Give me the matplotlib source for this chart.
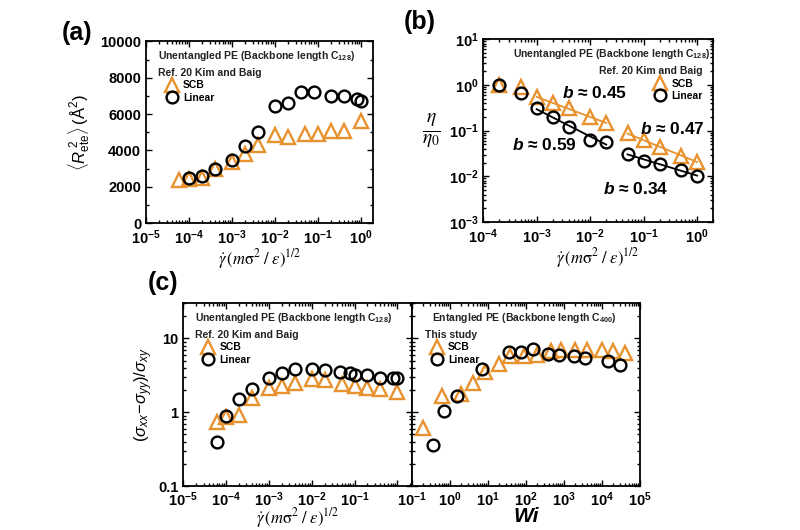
import matplotlib
matplotlib.use('Agg')
import matplotlib.pyplot as plt
import matplotlib.ticker as mticker
import numpy as np

plt.rcParams['font.family'] = ['Liberation Sans', 'DejaVu Sans']
plt.rcParams['mathtext.fontset'] = 'custom'
plt.rcParams['mathtext.rm'] = 'Liberation Sans'
plt.rcParams['mathtext.it'] = 'Liberation Sans:italic'
plt.rcParams['mathtext.bf'] = 'Liberation Sans:bold'
plt.rcParams['mathtext.bfit'] = 'Liberation Sans:italic:bold'

ORANGE = '#E8922F'

# (a) mean-square end-to-end distance
a_scb_x = [6e-5, 1e-4, 2e-4, 4e-4, 1e-3, 2e-3, 4e-3, 1e-2, 2e-2, 5e-2, 1e-1, 2e-1, 4e-1, 1.0]
a_scb_y = [2350, 2450, 2500, 3000, 3350, 3830, 4280, 4840, 4760, 4880, 4880, 5080, 5080, 5600]
a_lin_x = [1e-4, 2e-4, 4e-4, 1e-3, 2e-3, 4e-3, 1e-2, 2e-2, 4e-2, 8e-2, 2e-1, 4e-1, 8e-1, 1.0]
a_lin_y = [2500, 2600, 3000, 3500, 4220, 5000, 6420, 6600, 7220, 7220, 7000, 7000, 6820, 6720]

# (b) normalised viscosity
b_scb_x = [2e-4, 5e-4, 1e-3, 2e-3, 4e-3, 1e-2, 2e-2, 5e-2, 1e-1, 2e-1, 5e-1, 1.0]
b_scb_y = [1.0, 0.88, 0.54, 0.40, 0.31, 0.20, 0.145, 0.087, 0.062, 0.044, 0.028, 0.021]
b_lin_x = [2e-4, 5e-4, 1e-3, 2e-3, 4e-3, 1e-2, 2e-2, 5e-2, 1e-1, 2e-1, 5e-1, 1.0]
b_lin_y = [1.0, 0.66, 0.31, 0.20, 0.12, 0.064, 0.057, 0.031, 0.022, 0.019, 0.014, 0.010]
b_fit_ranges = [(1e-3, 2e-2), (5e-2, 1.0)]
b_slopes = ['0.45', '0.59', '0.47', '0.34']
b_slope_pos = [(1.2e-2, 0.66), (1.4e-3, 0.048), (0.34, 0.11), (0.07, 0.0054)]

# (c) left: unentangled, vs shear rate
c1_scb_x = [6e-5, 1e-4, 2e-4, 4e-4, 1e-3, 2e-3, 4e-3, 1e-2, 2e-2, 5e-2, 1e-1, 2e-1, 4e-1, 1.0]
c1_scb_y = [0.73, 0.86, 0.93, 1.58, 2.1, 2.27, 2.52, 2.8, 2.7, 2.4, 2.23, 2.15, 2.05, 1.9]
c1_lin_x = [6e-5, 1e-4, 2e-4, 4e-4, 1e-3, 2e-3, 4e-3, 1e-2, 2e-2, 4.5e-2, 8e-2, 1e-1, 2e-1, 4e-1, 8e-1, 1.0]
c1_lin_y = [0.40, 0.90, 1.5, 2.05, 2.94, 3.43, 3.8, 3.9, 3.69, 3.54, 3.36, 3.19, 3.16, 2.94, 2.88, 2.88]

# (c) right: entangled, vs Wi
c2_scb_x = [0.2, 0.6, 2.0, 4.0, 8.3, 20, 39, 87, 200, 450, 830, 2000, 4000, 1e4, 2e4, 4e4]
c2_scb_y = [0.61, 1.67, 1.76, 2.52, 3.54, 4.5, 5.7, 5.7, 6.0, 6.7, 7.0, 7.0, 7.0, 7.0, 6.8, 6.4]
c2_lin_x = [0.36, 0.7, 1.5, 7.0, 36, 76, 150, 370, 750, 1800, 3600, 14000, 30000]
c2_lin_y = [0.36, 1.05, 1.64, 3.9, 6.6, 6.6, 7.2, 6.2, 5.9, 5.75, 5.5, 5.0, 4.35]

GAMMA_LABEL = r'$\dot{\gamma}\,(m\mathrm{\sigma}^2\;/\;\varepsilon)^{1/2}$'


def scb(ax, x, y):
    ax.plot(x, y, ls='none', marker='^', ms=10.5, mfc='none', mec=ORANGE, mew=1.7,
            label='SCB', zorder=3)


def lin(ax, x, y):
    ax.plot(x, y, ls='none', marker='o', ms=8.5, mfc='none', mec='black', mew=1.7,
            label='Linear', zorder=4)


def log_fmt(hide_above=None):
    def f(v, _):
        if v <= 0 or (hide_above is not None and v > hide_above):
            return ''
        return r'$\mathbf{10^{%d}}$' % round(np.log10(v))
    return mticker.FuncFormatter(f)


def style(ax):
    ax.tick_params(which='both', direction='in', top=True, right=True,
                   labelsize=10.5, width=1.0)
    ax.tick_params(which='major', length=4.5)
    ax.tick_params(which='minor', length=2.5)
    for lbl in ax.get_xticklabels() + ax.get_yticklabels():
        lbl.set_fontweight('bold')
    for s in ax.spines.values():
        s.set_linewidth(1.3)


def log_x(ax, lo, hi, hide_above=None):
    ax.set_xscale('log')
    ax.set_xlim(lo, hi)
    ax.xaxis.set_major_locator(mticker.LogLocator(base=10, numticks=20))
    ax.xaxis.set_minor_locator(mticker.LogLocator(base=10, subs=np.arange(2, 10), numticks=20))
    ax.xaxis.set_major_formatter(log_fmt(hide_above))
    ax.xaxis.set_minor_formatter(mticker.NullFormatter())


def header(ax, title, ref, x, ref_x, ha='left'):
    ax.text(x, 0.92, title, transform=ax.transAxes, ha=ha, va='center',
            fontsize=7.5, fontweight='bold', color='#222222')
    ax.text(ref_x, 0.825, ref, transform=ax.transAxes,
            ha=ha, va='center', fontsize=7.5, fontweight='bold', color='#222222')


def legend(ax, loc, anchor):
    ax.legend(loc=loc, bbox_to_anchor=anchor, frameon=False,
              prop={'weight': 'bold', 'size': 7.5}, handlelength=1.0,
              handletextpad=0.6, labelspacing=0.2, borderpad=0, borderaxespad=0)


fig = plt.figure(figsize=(8, 5.3), dpi=100)

# ---- (a)
ax_a = fig.add_axes([0.1825, 0.579, 0.284, 0.343])
scb(ax_a, a_scb_x, a_scb_y)
lin(ax_a, a_lin_x, a_lin_y)
log_x(ax_a, 1e-5, 1.9)
ax_a.set_ylim(0, 10000)
ax_a.yaxis.set_major_locator(mticker.MultipleLocator(2000))
ax_a.yaxis.set_minor_locator(mticker.MultipleLocator(1000))
style(ax_a)
header(ax_a, r'Unentangled PE (Backbone length C$_{\mathbf{128}}$)',
       'Ref. 20 Kim and Baig', 0.055, 0.055)
legend(ax_a, 'upper left', (0.09, 0.785))
ax_a.set_ylabel(r'$\langle\mathit{R}_{\mathrm{ete}}^{\;2}\rangle\,(\mathrm{\AA}^{2})$',
                fontsize=12, labelpad=6)
ax_a.set_xlabel(GAMMA_LABEL, fontsize=12, labelpad=0, math_fontfamily='stix')

# ---- (b)
ax_b = fig.add_axes([0.604, 0.581, 0.2875, 0.345])
scb(ax_b, b_scb_x, b_scb_y)
lin(ax_b, b_lin_x, b_lin_y)
# power-law fits through each segment of the data
for xs, ys, col in [(b_scb_x, b_scb_y, ORANGE), (b_lin_x, b_lin_y, 'black')]:
    xs, ys = np.array(xs), np.array(ys)
    for lo, hi in b_fit_ranges:
        m = (xs >= lo) & (xs <= hi)
        p = np.polyfit(np.log10(xs[m]), np.log10(ys[m]), 1)
        xf = np.array([xs[m].min(), xs[m].max()])
        ax_b.plot(xf, 10 ** np.polyval(p, np.log10(xf)), color=col, lw=1.3, zorder=2)
for val, (tx, ty) in zip(b_slopes, b_slope_pos):
    ax_b.text(tx, ty, r'$\mathbfit{b}$ ≈ ' + val, ha='center', va='center',
              fontsize=12.5, fontweight='bold')
log_x(ax_b, 1e-4, 2)
ax_b.set_yscale('log')
ax_b.set_ylim(1e-3, 10)
ax_b.yaxis.set_major_locator(mticker.LogLocator(base=10, numticks=20))
ax_b.yaxis.set_minor_locator(mticker.LogLocator(base=10, subs=np.arange(2, 10), numticks=20))
ax_b.yaxis.set_major_formatter(log_fmt())
ax_b.yaxis.set_minor_formatter(mticker.NullFormatter())
style(ax_b)
header(ax_b, r'Unentangled PE (Backbone length C$_{\mathbf{128}}$)',
       'Ref. 20 Kim and Baig', 0.985, 0.955, ha='right')
legend(ax_b, 'upper right', (0.955, 0.785))
ax_b.set_ylabel(r'$\frac{\eta}{\eta_0}$', fontsize=20, rotation=0, labelpad=12,
                va='center', math_fontfamily='stix')
ax_b.set_xlabel(GAMMA_LABEL, fontsize=12, labelpad=0, math_fontfamily='stix')

# ---- (c)
ax_c1 = fig.add_axes([0.229, 0.083, 0.286, 0.345])
ax_c2 = fig.add_axes([0.515, 0.083, 0.285, 0.345], sharey=ax_c1)
scb(ax_c1, c1_scb_x, c1_scb_y)
lin(ax_c1, c1_lin_x, c1_lin_y)
scb(ax_c2, c2_scb_x, c2_scb_y)
lin(ax_c2, c2_lin_x, c2_lin_y)
log_x(ax_c1, 1e-5, 2.2, hide_above=0.5)
log_x(ax_c2, 1e-1, 1e5)
ax_c1.set_yscale('log')
ax_c1.set_ylim(0.1, 30)
ax_c1.yaxis.set_major_formatter(mticker.FuncFormatter(lambda v, _: f'{v:g}'))
ax_c1.yaxis.set_minor_formatter(mticker.NullFormatter())
style(ax_c1)
style(ax_c2)
ax_c2.tick_params(labelleft=False)
header(ax_c1, r'Unentangled PE (Backbone length C$_{\mathbf{128}}$)',
       'Ref. 20 Kim and Baig', 0.05, 0.05)
legend(ax_c1, 'upper left', (0.085, 0.785))
header(ax_c2, r'Entangled PE (Backbone length C$_{\mathbf{400}}$)',
       'This study', 0.088, 0.057)
legend(ax_c2, 'upper left', (0.085, 0.785))
ax_c1.set_ylabel(r'$(\sigma_{xx}\!-\!\sigma_{yy})/\sigma_{xy}$', fontsize=12, labelpad=2)
ax_c1.set_xlabel(GAMMA_LABEL, fontsize=12, labelpad=-2.5, math_fontfamily='stix')
ax_c2.set_xlabel('Wi', fontsize=15, fontweight='bold', fontstyle='italic', labelpad=-2)

# panel labels
fig.text(0.096, 0.938, '(a)', fontsize=18, fontweight='bold', ha='center', va='center')
fig.text(0.525, 0.958, '(b)', fontsize=18, fontweight='bold', ha='center', va='center')
fig.text(0.204, 0.466, '(c)', fontsize=18, fontweight='bold', ha='center', va='center')

fig.savefig('out.png', dpi=100)
